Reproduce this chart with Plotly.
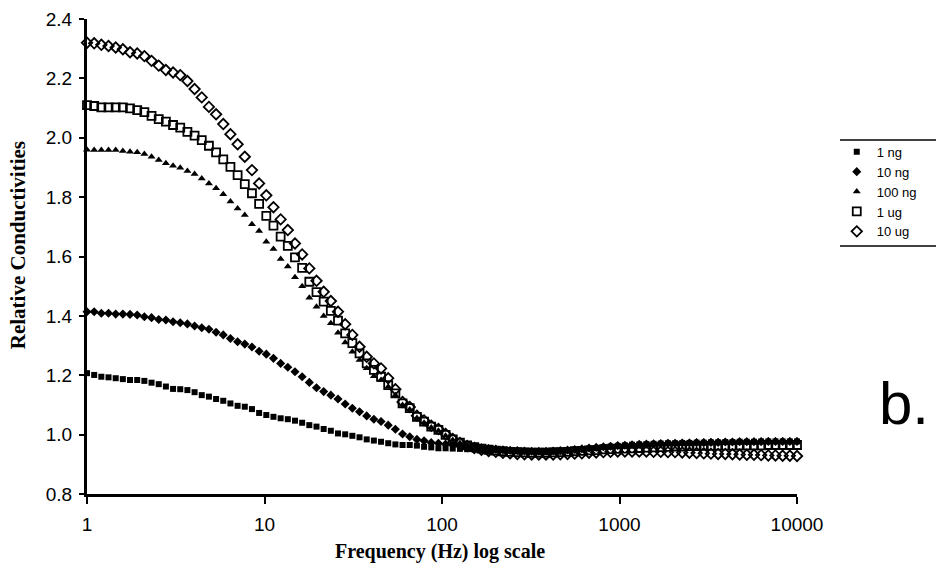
import numpy as np
import plotly.graph_objects as go

# Frequency sweep of the analyser: 100 log-spaced points from 1 Hz to 10 kHz
F_START = 1
F_STOP = 10000
N_POINTS = 100
freq = np.logspace(np.log10(F_START), np.log10(F_STOP), N_POINTS)

series_names = ["1 ng", "10 ng", "100 ng", "1 ug", "10 ug"]

ng1 = [1.207, 1.201, 1.195, 1.193, 1.190, 1.187, 1.184, 1.184, 1.181, 1.175,
       1.170, 1.162, 1.154, 1.153, 1.150, 1.143, 1.133, 1.128, 1.120, 1.114,
       1.105, 1.097, 1.094, 1.086, 1.073, 1.066, 1.060, 1.055, 1.052, 1.047,
       1.040, 1.032, 1.027, 1.019, 1.013, 1.004, 1.001, 0.996, 0.991, 0.984,
       0.980, 0.976, 0.971, 0.967, 0.965, 0.965, 0.963, 0.959, 0.957, 0.954,
       0.954, 0.953, 0.952, 0.951, 0.950, 0.949, 0.948, 0.947, 0.947, 0.946,
       0.946, 0.945, 0.945, 0.945, 0.945, 0.946, 0.946, 0.947, 0.949, 0.951,
       0.953, 0.955, 0.958, 0.960, 0.962, 0.964, 0.966, 0.967, 0.968, 0.969,
       0.970, 0.971, 0.971, 0.972, 0.972, 0.973, 0.973, 0.974, 0.974, 0.975,
       0.975, 0.976, 0.976, 0.976, 0.977, 0.977, 0.977, 0.977, 0.977, 0.977]

ng10 = [1.414, 1.414, 1.409, 1.409, 1.406, 1.406, 1.405, 1.403, 1.397, 1.394,
        1.388, 1.386, 1.380, 1.377, 1.373, 1.366, 1.360, 1.355, 1.345, 1.336,
        1.324, 1.313, 1.305, 1.295, 1.281, 1.271, 1.257, 1.240, 1.227, 1.212,
        1.195, 1.176, 1.158, 1.145, 1.133, 1.120, 1.103, 1.089, 1.077, 1.063,
        1.052, 1.044, 1.032, 1.018, 1.002, 0.993, 0.984, 0.979, 0.973, 0.971,
        0.968, 0.965, 0.962, 0.959, 0.957, 0.955, 0.953, 0.951, 0.949, 0.947,
        0.946, 0.945, 0.944, 0.944, 0.944, 0.945, 0.946, 0.948, 0.950, 0.952,
        0.955, 0.957, 0.959, 0.961, 0.963, 0.964, 0.966, 0.967, 0.968, 0.969,
        0.970, 0.971, 0.971, 0.972, 0.972, 0.973, 0.973, 0.974, 0.974, 0.975,
        0.975, 0.976, 0.976, 0.976, 0.976, 0.977, 0.977, 0.977, 0.977, 0.977]

ng100 = [1.960, 1.959, 1.959, 1.959, 1.959, 1.955, 1.953, 1.951, 1.945, 1.936,
         1.925, 1.914, 1.906, 1.899, 1.888, 1.878, 1.863, 1.846, 1.830, 1.810,
         1.785, 1.762, 1.740, 1.709, 1.686, 1.650, 1.625, 1.592, 1.566, 1.530,
         1.500, 1.461, 1.431, 1.400, 1.375, 1.343, 1.310, 1.279, 1.251, 1.224,
         1.197, 1.184, 1.161, 1.133, 1.100, 1.085, 1.056, 1.040, 1.024, 1.013,
         0.996, 0.982, 0.972, 0.965, 0.960, 0.956, 0.953, 0.950, 0.948, 0.946,
         0.945, 0.944, 0.943, 0.943, 0.943, 0.944, 0.945, 0.947, 0.949, 0.951,
         0.954, 0.956, 0.958, 0.960, 0.962, 0.964, 0.966, 0.968, 0.969, 0.970,
         0.971, 0.972, 0.973, 0.974, 0.975, 0.976, 0.976, 0.977, 0.977, 0.978,
         0.978, 0.979, 0.979, 0.979, 0.980, 0.980, 0.980, 0.980, 0.980, 0.980]

ug1 = [2.110, 2.107, 2.102, 2.102, 2.102, 2.102, 2.099, 2.093, 2.086, 2.074,
       2.063, 2.054, 2.043, 2.034, 2.020, 2.007, 1.992, 1.973, 1.951, 1.927,
       1.902, 1.874, 1.844, 1.813, 1.777, 1.737, 1.704, 1.667, 1.636, 1.597,
       1.562, 1.515, 1.480, 1.448, 1.417, 1.384, 1.341, 1.308, 1.274, 1.240,
       1.218, 1.195, 1.167, 1.139, 1.105, 1.089, 1.060, 1.044, 1.027, 1.016,
       0.999, 0.984, 0.973, 0.964, 0.958, 0.953, 0.949, 0.946, 0.944, 0.942,
       0.941, 0.940, 0.939, 0.939, 0.939, 0.940, 0.941, 0.942, 0.944, 0.945,
       0.947, 0.948, 0.950, 0.951, 0.952, 0.953, 0.954, 0.955, 0.956, 0.957,
       0.958, 0.959, 0.960, 0.960, 0.961, 0.961, 0.962, 0.962, 0.963, 0.963,
       0.963, 0.964, 0.964, 0.964, 0.964, 0.965, 0.965, 0.965, 0.965, 0.965]

ug10 = [2.320, 2.318, 2.313, 2.309, 2.304, 2.298, 2.288, 2.284, 2.275, 2.259,
        2.243, 2.228, 2.220, 2.211, 2.191, 2.164, 2.136, 2.104, 2.079, 2.046,
        2.012, 1.978, 1.936, 1.891, 1.846, 1.806, 1.766, 1.725, 1.689, 1.644,
        1.607, 1.560, 1.518, 1.481, 1.450, 1.414, 1.372, 1.336, 1.296, 1.262,
        1.240, 1.223, 1.190, 1.153, 1.110, 1.093, 1.064, 1.048, 1.030, 1.019,
        1.002, 0.985, 0.972, 0.962, 0.955, 0.949, 0.945, 0.942, 0.939, 0.937,
        0.935, 0.934, 0.933, 0.933, 0.933, 0.933, 0.934, 0.935, 0.936, 0.937,
        0.939, 0.940, 0.941, 0.942, 0.943, 0.943, 0.943, 0.943, 0.943, 0.942,
        0.942, 0.941, 0.941, 0.940, 0.939, 0.938, 0.937, 0.936, 0.935, 0.935,
        0.934, 0.933, 0.932, 0.932, 0.931, 0.930, 0.930, 0.929, 0.929, 0.928]

x_tick_vals = [1, 10, 100, 1000, 10000]
x_tick_text = ["1", "10", "100", "1000", "10000"]
y_tick_vals = [0.8, 1.0, 1.2, 1.4, 1.6, 1.8, 2.0, 2.2, 2.4]
y_tick_text = ["0.8", "1.0", "1.2", "1.4", "1.6", "1.8", "2.0", "2.2", "2.4"]

series_values = [ng1, ng10, ng100, ug1, ug10]
styles = [
    dict(symbol="square", size=6, color="black", line=dict(width=0)),
    dict(symbol="diamond", size=7, color="black", line=dict(width=0)),
    dict(symbol="triangle-up", size=7, color="black", line=dict(width=0)),
    dict(symbol="square-open", size=8, color="black", line=dict(width=1.8, color="black")),
    dict(symbol="diamond-open", size=8, color="black", line=dict(width=1.8, color="black")),
]

fig = go.Figure()
for name, vals, st in zip(series_names, series_values, styles):
    fig.add_trace(go.Scatter(x=freq, y=vals, mode="markers", name=name,
                             marker=st, cliponaxis=False))

fig.update_layout(
    width=936, height=580,
    margin=dict(l=87, r=139, t=19, b=86, autoexpand=False),
    paper_bgcolor="white", plot_bgcolor="white",
    font=dict(family="Liberation Sans, Arial", color="black"),
    showlegend=True,
    legend=dict(x=1.056, y=0.752, xanchor="left", yanchor="top",
                font=dict(size=13, family="Liberation Sans, Arial"),
                itemwidth=30, borderwidth=0, bgcolor="rgba(0,0,0,0)",
                tracegroupgap=0),
)
fig.update_xaxes(type="log", range=[0, 4], tickvals=x_tick_vals, ticktext=x_tick_text,
                 showgrid=False, zeroline=False, showline=True, linecolor="black",
                 linewidth=3, ticks="outside", ticklen=7, tickwidth=2, tickcolor="black",
                 tickfont=dict(size=19), ticklabelstandoff=4)
fig.update_yaxes(range=[0.8, 2.4], tickvals=y_tick_vals, ticktext=y_tick_text,
                 showgrid=False, zeroline=False, showline=True, linecolor="black",
                 linewidth=3, ticks="outside", ticklen=5, tickwidth=2, tickcolor="black",
                 tickfont=dict(size=19), ticklabelstandoff=3)

fig.add_annotation(text="<b>Frequency (Hz) log scale</b>", xref="paper", yref="paper",
                   x=0.497, y=-0.12, xanchor="center", yanchor="middle", showarrow=False,
                   font=dict(family="Liberation Serif, Times New Roman", size=20))
fig.add_annotation(text="<b>Relative Conductivities</b>", xref="paper", yref="paper",
                   x=-0.097, y=0.524, xanchor="center", yanchor="middle", showarrow=False,
                   textangle=-90,
                   font=dict(family="Liberation Serif, Times New Roman", size=21))
fig.add_annotation(text="b.", xref="paper", yref="paper",
                   x=1.113, y=0.19, xanchor="left", yanchor="middle", showarrow=False,
                   font=dict(family="Liberation Sans, Arial", size=60))

# legend top and bottom rules
for yy in [0.7453, 0.5221]:
    fig.add_shape(type="line", xref="paper", yref="paper", x0=1.0606, x1=1.1958,
                  y0=yy, y1=yy, line=dict(color="black", width=1.5))

fig.write_html("out.html", config={"displayModeBar": False},
               post_script="document.body.style.margin='0px';document.body.style.overflow='hidden';")
